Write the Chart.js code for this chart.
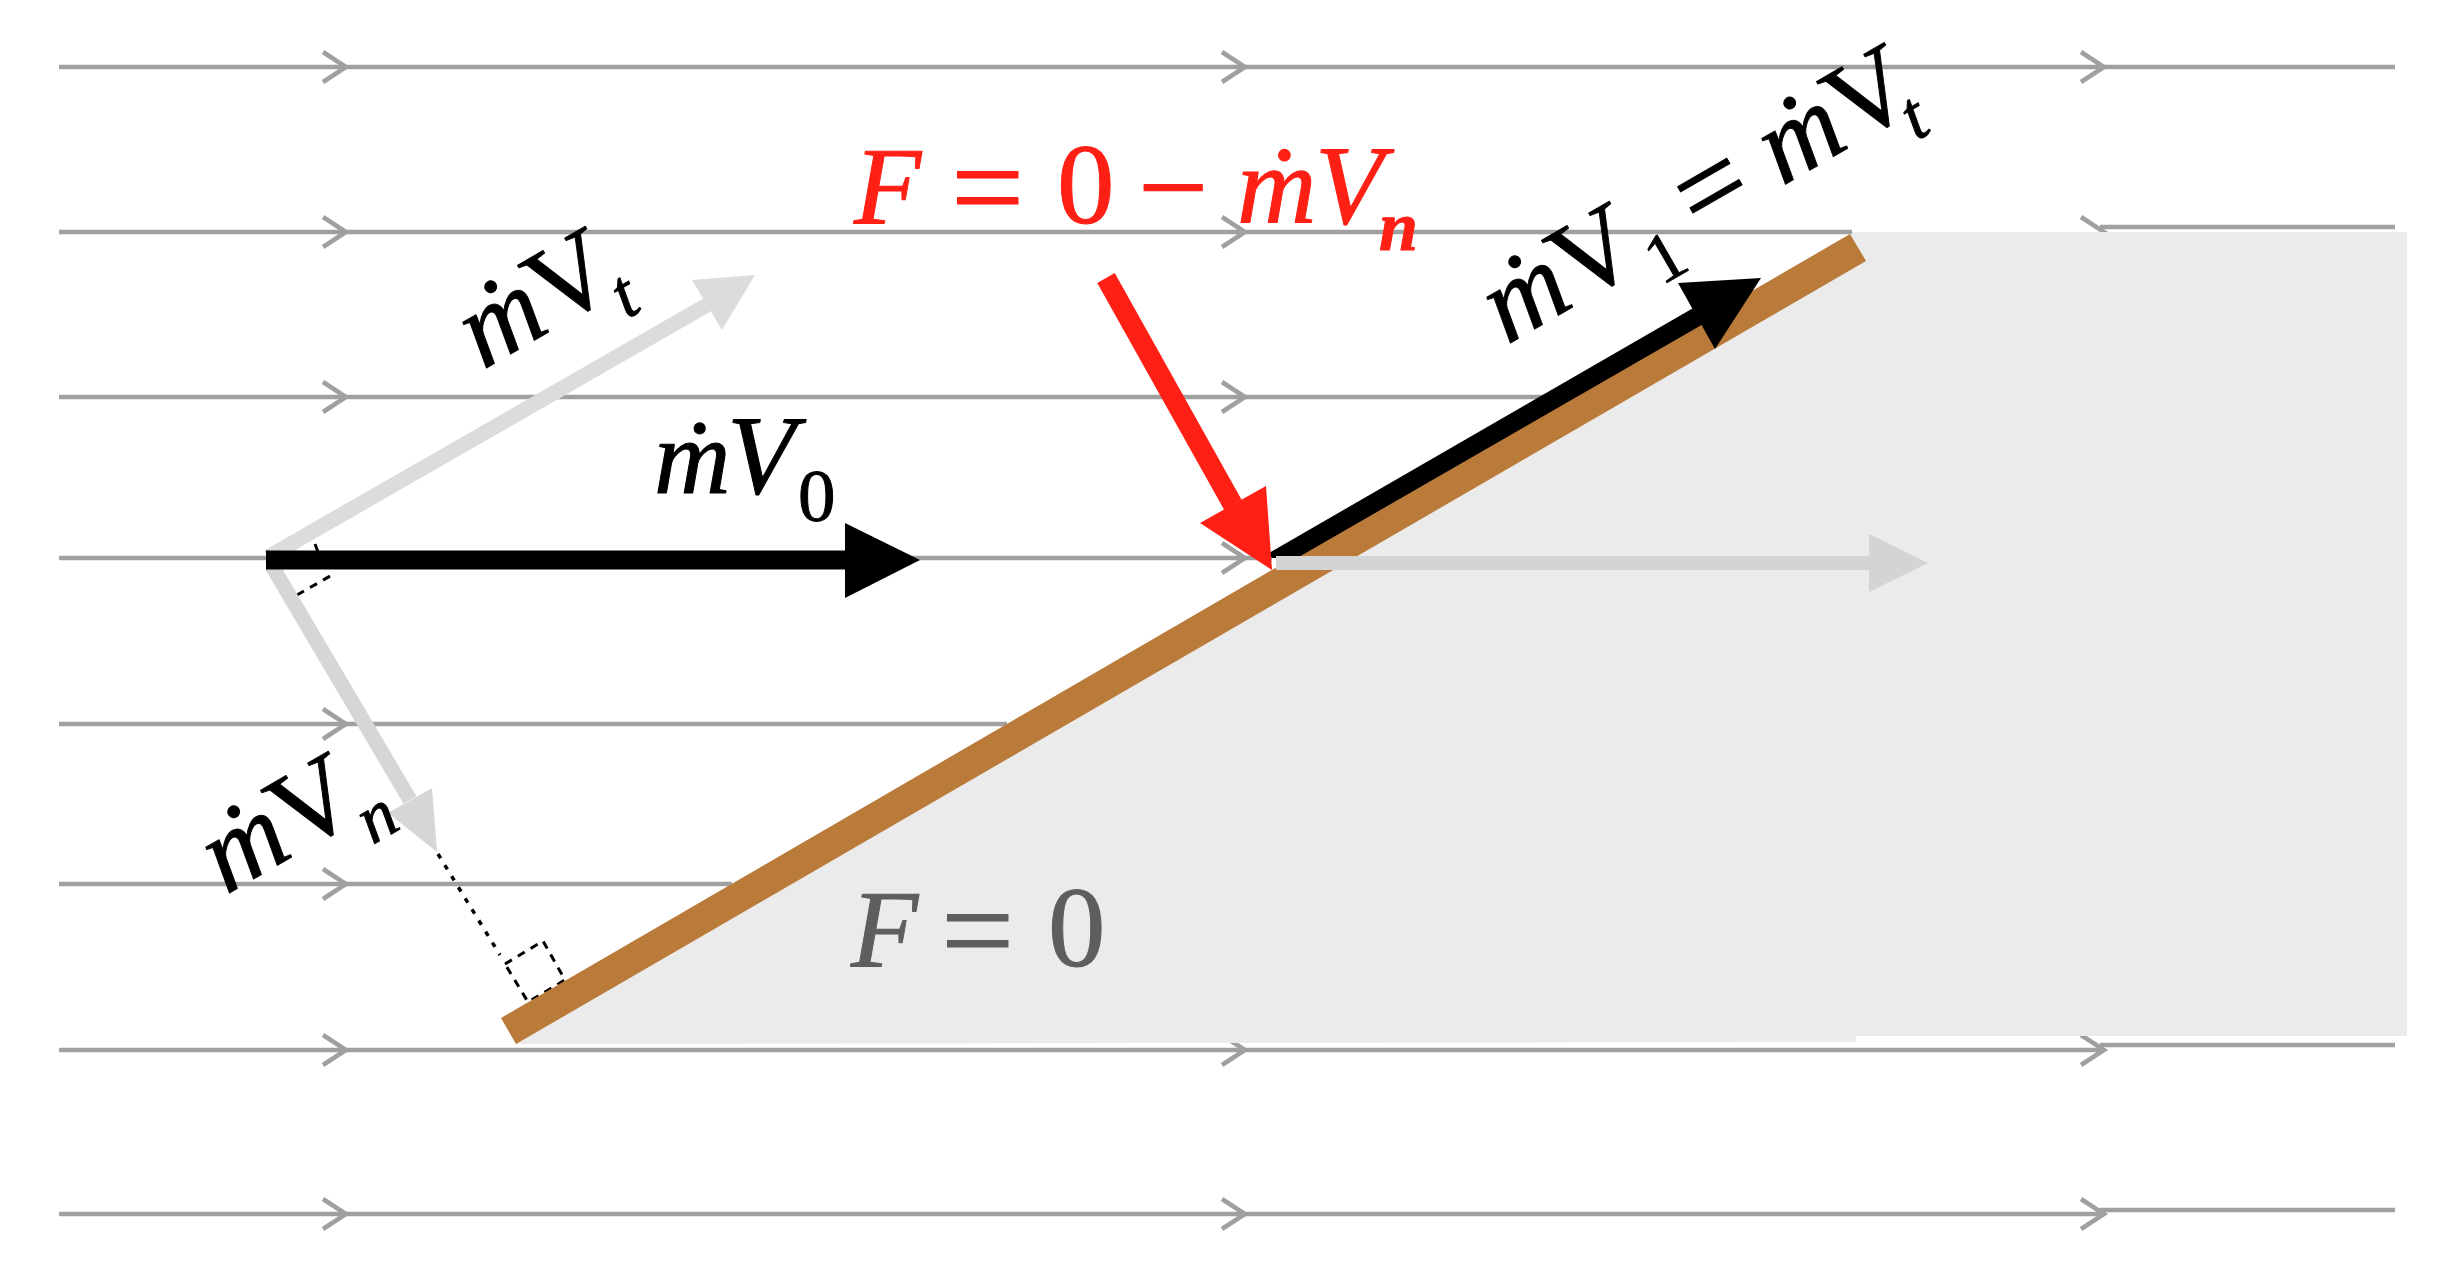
<!DOCTYPE html>
<html>
<head>
<meta charset="utf-8">
<script src="https://cdn.jsdelivr.net/npm/chart.js@4"></script>
<style>
    body { margin: 0; background: #FFFFFF; }
    canvas { display: block; }
</style>
</head>
<body>
<canvas id="chart" width="2440" height="1262"></canvas>
<script>
// streamlines: y of each line and where it stops on the right
var flowY = [67, 232, 397, 558, 724, 884, 1050, 1214];
var flowStartX = [59, 59, 59, 59, 59, 59, 59, 59];
var flowEndX = [2395, 1852, 1570, 1272, 1007, 732, 2100, 2100];
// the stretches right of the body sit a little higher
var flowRightY = [227, 1045, 1210];
var flowRightStartX = [2100, 2100, 2100];
var flowRightEndX = [2395, 2395, 2395];

// chevrons, one list of tip x for each streamline
var chevronTipX = [
    [346, 1245, 2104],
    [346, 1245, 2104],
    [346, 1245],
    [1245],
    [346],
    [346],
    [346, 1245, 2104],
    [346, 1245, 2104]
];

var bodyX = [516, 1852, 1852, 2407, 2407, 1856, 1856];
var bodyY = [1044, 234, 232, 232, 1036, 1036, 1042];
var plateX = [501, 516, 1866, 1850];
var plateY = [1018, 1044, 261, 234];

// dashed construction lines
var dropX = [438, 500];
var dropY = [854, 955];
var squareLowX = [505, 543, 565, 528, 505];
var squareLowY = [964, 941, 980, 1002, 964];
var squareTopX = [297, 332];
var squareTopY = [595, 575];
var squareTickX = [315, 318];
var squareTickY = [544, 552];

// arrows: shaft, then head
var tangentShaftX = [268, 707];
var tangentShaftY = [557, 305];
var tangentHeadX = [755, 692, 722];
var tangentHeadY = [275, 280, 330];
var normalShaftX = [272, 410];
var normalShaftY = [566, 800];
var normalHeadX = [437, 432, 388];
var normalHeadY = [852, 788, 813];
var passShaftX = [1276, 1869];
var passShaftY = [563, 563];
var passHeadX = [1928, 1869, 1869];
var passHeadY = [563, 534, 592];
var inShaftX = [266, 845];
var inShaftY = [560, 560];
var inHeadX = [920, 845, 845];
var inHeadY = [560, 523, 598];
var outShaftX = [1272, 1269, 1695, 1705, 1297];
var outShaftY = [558, 553, 307, 323, 558];
var outHeadX = [1761, 1678, 1715];
var outHeadY = [278, 283, 349];
var forceShaftX = [1106, 1233];
var forceShaftY = [278, 505];
var forceHeadX = [1272, 1266, 1200];
var forceHeadY = [570, 486, 523];

var GREY_LINE = '#A0A0A0';
var BODY = '#EBEBEB';
var BROWN = '#B97A3A';
var PALE = '#DCDCDC';
var PASS = '#D4D4D4';
var RED = '#FF2015';

function points(xs, ys) {
    return xs.map((x, i) => ({ x: x, y: ys[i] }));
}

function line(xs, ys, color, width, dash) {
    return {
        data: points(xs, ys),
        showLine: true,
        borderColor: color,
        borderWidth: width,
        borderDash: dash || [],
        borderCapStyle: 'butt',
        pointRadius: 0,
        fill: false
    };
}

function shape(xs, ys, color) {
    return {
        data: points(xs.concat(xs[0]), ys.concat(ys[0])),
        showLine: true,
        borderWidth: 0,
        borderColor: color,
        backgroundColor: color,
        pointRadius: 0,
        fill: 'shape'
    };
}

var layers = [];

flowY.forEach((y, i) => {
    layers.push(line([flowStartX[i], flowEndX[i]], [y, y], GREY_LINE, 4.5));
    chevronTipX[i].forEach(tip => {
        layers.push(line([tip - 23, tip, tip - 23], [y - 15, y, y + 15], GREY_LINE, 4.5));
    });
});
flowRightY.forEach((y, i) => {
    layers.push(line([flowRightStartX[i], flowRightEndX[i]], [y, y], GREY_LINE, 4.5));
});

layers.push(shape(bodyX, bodyY, BODY));
layers.push(line(dropX, dropY, '#000000', 3.5, [5, 8]));
layers.push(line(squareLowX, squareLowY, '#000000', 3, [8, 7]));
layers.push(line(squareTopX, squareTopY, '#000000', 3, [8, 7]));
layers.push(line(squareTickX, squareTickY, '#000000', 3));
layers.push(shape(plateX, plateY, BROWN));
layers.push(line(tangentShaftX, tangentShaftY, PALE, 15));
layers.push(shape(tangentHeadX, tangentHeadY, PALE));
layers.push(line(normalShaftX, normalShaftY, '#D6D6D6', 15));
layers.push(shape(normalHeadX, normalHeadY, '#D6D6D6'));
layers.push(line(inShaftX, inShaftY, '#000000', 19));
layers.push(shape(inHeadX, inHeadY, '#000000'));
layers.push(shape(outShaftX, outShaftY, '#000000'));
layers.push(shape(outHeadX, outHeadY, '#000000'));
layers.push(line(passShaftX, passShaftY, PASS, 14));
layers.push(shape(passHeadX, passHeadY, PASS));
layers.push(line(forceShaftX, forceShaftY, RED, 20));
layers.push(shape(forceHeadX, forceHeadY, RED));

// Chart.js paints the highest order first
layers.forEach((d, i) => { d.order = layers.length - i; });

var SERIF = '"Liberation Serif"';

var equationText = {
    id: 'equationText',
    afterDatasetsDraw(chart) {
        var ctx = chart.ctx;
        var sx = chart.scales.x, sy = chart.scales.y;

        function put(str, x, y, font, color, rot) {
            ctx.save();
            ctx.translate(sx.getPixelForValue(x), sy.getPixelForValue(y));
            ctx.rotate((rot || 0) * Math.PI / 180);
            ctx.font = font + ' ' + SERIF;
            ctx.fillStyle = color;
            ctx.strokeStyle = color;
            ctx.lineWidth = 1;
            ctx.lineJoin = 'round';
            ctx.textBaseline = 'alphabetic';
            ctx.fillText(str, 0, 0);
            ctx.strokeText(str, 0, 0);
            ctx.restore();
        }

        // runs of text along one tilted baseline, each run [string, font, gap, drop]
        function run(parts, x, y, color, rot) {
            var a = rot * Math.PI / 180, along = 0;
            parts.forEach(p => {
                ctx.font = p[1] + ' ' + SERIF;
                var w = ctx.measureText(p[0]).width;
                along += p[2];
                var px = x + along * Math.cos(a) - p[3] * Math.sin(a);
                var py = y + along * Math.sin(a) + p[3] * Math.cos(a);
                put(p[0], px, py, p[1], color, rot);
                along += w;
            });
        }

        // red force equation
        put('F', 854, 223, 'italic 110px', RED);
        put('=', 951, 231, '130px', RED);
        put('0', 1057, 223, '115px', RED);
        put('\u2212', 1138, 229, '125px', RED);
        put('\u1E41', 1237, 223, 'italic 110px', RED);
        put('V', 1315, 223, 'italic 112px', RED);
        put('n', 1379, 250, 'italic bold 70px', RED);

        // grey equation on the body
        put('F', 851, 966, 'italic 110px', '#5E5E5E');
        put('=', 941, 974, '130px', '#5E5E5E');
        put('0', 1048, 966, '115px', '#5E5E5E');

        // incoming momentum
        put('\u1E41', 654, 493, 'italic 106px', '#000000');
        put('V', 727, 493, 'italic 112px', '#000000');
        put('0', 798, 521, '75px', '#000000');

        // labels tilted with the plate
        run([['\u1E41', 'italic 112px', 0, 0], ['V', '112px', 0, 0], ['t', 'italic 70px', -12, 28]],
            483, 370, '#000000', -30);
        run([['\u1E41', 'italic 112px', 0, 0], ['V', '112px', 0, 0], ['n', 'italic 70px', -10, 30]],
            226, 895, '#000000', -30);
        run([['\u1E41', 'italic 112px', 0, 0], ['V', '112px', 0, 0], ['1', '70px', 2, 26],
             ['=', '122px', 22, 4], ['\u1E41', 'italic 112px', 28, 0], ['V', '112px', 0, 0], ['t', 'italic 70px', -23, 28]],
            1507, 345, '#000000', -30);
    }
};

new Chart(document.getElementById('chart'), {
    type: 'scatter',
    data: { datasets: layers },
    options: {
        responsive: false,
        animation: false,
        devicePixelRatio: 1,
        layout: { padding: 0 },
        plugins: { legend: { display: false }, tooltip: { enabled: false } },
        scales: {
            x: { type: 'linear', min: 0, max: 2440, display: false },
            y: { type: 'linear', min: 0, max: 1262, reverse: true, display: false }
        }
    },
    plugins: [equationText]
});
</script>
</body>
</html>
